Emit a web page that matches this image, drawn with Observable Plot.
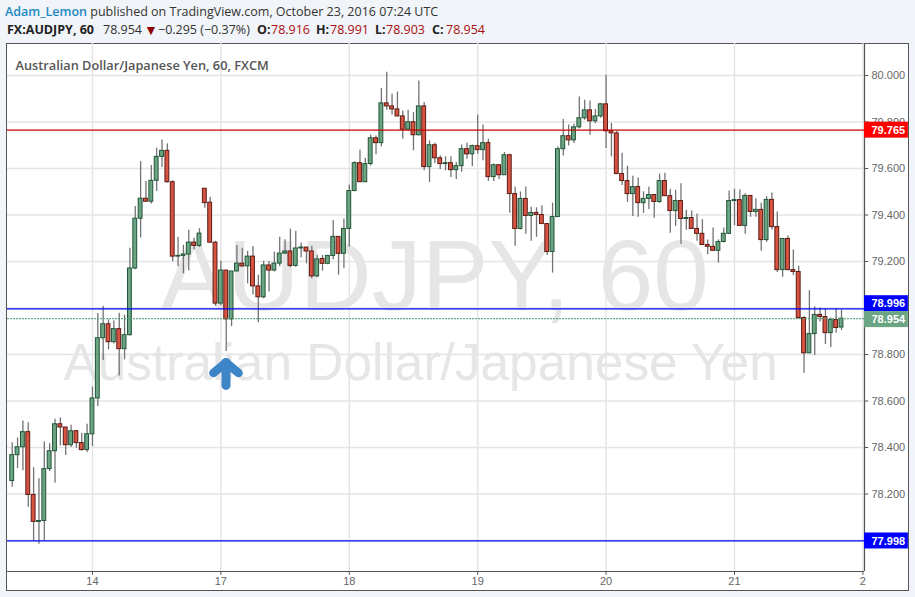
<!DOCTYPE html>
<html><head><meta charset="utf-8">
<script src="https://cdn.jsdelivr.net/npm/d3@7"></script>
<script src="https://cdn.jsdelivr.net/npm/@observablehq/plot@0.6"></script>
<style>
html,body{margin:0;padding:0;background:#f1f4f8;width:915px;height:597px;overflow:hidden}
#head{position:absolute;left:0;top:0;width:915px;height:43px;font-family:"Open Sans",sans-serif;color:#333;white-space:nowrap;font-size:12.5px;line-height:17px}
#head span{position:absolute}
#head .s{top:21px}
#head b{font-weight:700;color:#222}
#head i{font-style:normal;color:#a80f0f}
#frame{position:absolute;left:6px;top:43px;width:901px;height:546px;background:#fff;border:1px solid #555;box-sizing:content-box}
#chart{position:absolute;left:0;top:43px}
#chart svg{background:transparent;overflow:visible;display:block}
</style></head><body>
<div id="frame"></div>
<div id="head">
<span style="left:5px;top:3px"><b style="color:#1b8ac4;font-weight:600">Adam_Lemon</b> published on TradingView.com, October 23, 2016 07:24 UTC</span>
<span class="s" style="left:7px"><b>FX:AUDJPY, 60</b></span>
<span class="s" style="left:103px">78.954</span>
<span class="s" style="left:144px;color:#8b0000;font-size:14px;line-height:14px;top:23px">▼</span>
<span class="s" style="left:158px">−0.295 (−0.37%)</span>
<span class="s" style="left:257px"><b>O:</b></span><span class="s" style="left:271px"><i>78.916</i></span>
<span class="s" style="left:316px"><b>H:</b></span><span class="s" style="left:330px"><i>78.991</i></span>
<span class="s" style="left:375px"><b>L:</b></span><span class="s" style="left:386px"><i>78.903</i></span>
<span class="s" style="left:432px"><b>C:</b></span><span class="s" style="left:446px"><i>78.954</i></span>
</div>
<div id="chart"></div>
<script>
const open = [78.256,78.367,78.401,78.466,78.196,78.08,78.084,78.307,78.384,78.5,78.486,78.41,78.47,78.419,78.389,78.457,78.611,78.87,78.93,78.853,78.909,78.823,78.883,79.17,79.384,79.47,79.457,79.547,79.65,79.676,79.541,79.221,79.224,79.23,79.281,79.267,79.513,79.453,79.281,79.019,79.161,78.951,79.157,79.191,79.179,79.221,79.093,79.046,79.183,79.161,79.191,79.234,79.243,79.181,79.256,79.26,79.243,79.136,79.211,79.19,79.224,79.306,79.233,79.34,79.503,79.623,79.541,79.619,79.73,79.709,79.88,79.867,79.854,79.824,79.767,79.799,79.743,79.867,79.606,79.7,79.644,79.619,79.623,79.593,79.61,79.683,79.661,79.696,79.679,79.709,79.563,79.614,79.571,79.657,79.49,79.34,79.469,79.396,79.409,79.4,79.361,79.241,79.391,79.683,79.739,79.721,79.777,79.816,79.85,79.803,79.824,79.876,79.76,79.751,79.576,79.546,79.49,79.52,79.451,79.469,79.486,79.456,79.546,79.481,79.417,79.46,79.383,79.387,79.34,79.319,79.271,79.263,79.246,79.284,79.319,79.46,79.464,79.353,79.482,79.413,79.422,79.292,79.465,79.348,79.163,79.297,79.163,79.155,78.957,78.805,78.888,78.97,78.961,78.892,78.948,78.916];
const close = [78.367,78.401,78.466,78.196,78.08,78.084,78.307,78.384,78.5,78.486,78.41,78.47,78.419,78.389,78.457,78.611,78.87,78.93,78.853,78.909,78.823,78.883,79.17,79.384,79.47,79.457,79.547,79.65,79.676,79.541,79.221,79.224,79.23,79.281,79.267,79.32,79.451,79.281,79.019,79.161,78.951,79.157,79.191,79.179,79.221,79.093,79.046,79.183,79.161,79.191,79.234,79.243,79.181,79.256,79.26,79.243,79.136,79.209,79.19,79.224,79.306,79.233,79.34,79.503,79.623,79.541,79.619,79.73,79.709,79.88,79.867,79.854,79.824,79.767,79.799,79.743,79.867,79.606,79.7,79.644,79.619,79.623,79.593,79.61,79.683,79.661,79.696,79.679,79.709,79.563,79.614,79.571,79.657,79.49,79.34,79.469,79.396,79.409,79.4,79.361,79.241,79.391,79.683,79.739,79.721,79.777,79.816,79.85,79.803,79.824,79.876,79.76,79.751,79.576,79.546,79.49,79.52,79.451,79.469,79.486,79.456,79.546,79.481,79.417,79.46,79.383,79.387,79.34,79.319,79.271,79.263,79.246,79.284,79.319,79.46,79.464,79.353,79.482,79.413,79.422,79.292,79.465,79.348,79.163,79.297,79.163,79.155,78.957,78.805,78.888,78.97,78.961,78.892,78.948,78.914,78.954];
const high = [78.42,78.441,78.514,78.506,78.313,78.266,78.424,78.416,78.521,78.527,78.486,78.496,78.474,78.461,78.5,78.66,78.976,79.007,78.949,78.944,78.977,78.969,79.257,79.437,79.63,79.544,79.613,79.687,79.723,79.706,79.547,79.304,79.27,79.334,79.3,79.341,79.513,79.476,79.287,79.201,79.161,79.157,79.269,79.257,79.244,79.264,79.141,79.201,79.2,79.24,79.304,79.294,79.339,79.33,79.28,79.26,79.266,79.227,79.226,79.226,79.376,79.306,79.383,79.529,79.629,79.68,79.644,79.744,79.74,79.944,80.014,79.919,79.929,79.847,79.851,79.84,79.976,79.884,79.719,79.709,79.654,79.65,79.65,79.626,79.701,79.709,79.701,79.83,79.787,79.726,79.619,79.614,79.669,79.661,79.519,79.499,79.52,79.433,79.431,79.44,79.361,79.451,79.693,79.811,79.787,79.79,79.907,79.893,79.89,79.854,79.88,80.001,79.794,79.76,79.666,79.61,79.567,79.559,79.5,79.519,79.486,79.576,79.58,79.511,79.506,79.534,79.42,79.417,79.404,79.38,79.293,79.344,79.293,79.344,79.503,79.511,79.508,79.49,79.482,79.47,79.45,79.479,79.495,79.413,79.297,79.31,79.249,79.18,78.962,79.074,79.005,79.0,78.995,78.957,78.997,78.991];
const low = [78.229,78.31,78.30,78.143,77.998,77.984,77.998,78.297,78.246,78.407,78.366,78.40,78.397,78.384,78.379,78.404,78.576,78.774,78.82,78.845,78.707,78.777,78.88,79.164,79.301,79.455,79.447,79.501,79.604,79.537,79.199,79.177,79.147,79.159,79.249,79.26,79.429,79.281,79.007,79.01,78.813,78.92,79.157,79.175,79.104,79.056,78.937,79.04,79.069,79.155,79.177,79.23,79.173,79.175,79.216,79.19,79.126,79.13,79.159,79.186,79.207,79.141,79.169,79.261,79.5,79.54,79.54,79.611,79.659,79.693,79.851,79.83,79.821,79.727,79.766,79.676,79.74,79.59,79.54,79.621,79.596,79.59,79.561,79.553,79.584,79.64,79.607,79.661,79.633,79.544,79.544,79.553,79.57,79.407,79.266,79.336,79.317,79.287,79.304,79.361,79.226,79.15,79.39,79.654,79.697,79.707,79.77,79.807,79.743,79.793,79.816,79.686,79.65,79.576,79.527,79.454,79.394,79.39,79.407,79.424,79.386,79.45,79.48,79.321,79.351,79.274,79.334,79.34,79.287,79.27,79.229,79.244,79.193,79.28,79.316,79.354,79.35,79.317,79.39,79.39,79.244,79.282,79.335,79.153,79.132,79.16,79.14,78.953,78.719,78.805,78.796,78.94,78.843,78.83,78.891,78.903];

const priceTicks = [78.0,78.2,78.4,78.6,78.8,79.0,79.2,79.4,79.6,79.8,80.0];
const priceLabels = [78.2,78.4,78.6,78.8,79.2,79.4,79.6,79.8,80.0];
const dayIndex = [15,39,63,87,111,135,159];
const dayLabels = ["14","17","18","19","20","21","2"];
const blueLevels = [78.996,77.998];
const redLevel = [79.765];
const lastPrice = [78.954];
const tagValues = [79.765,78.996,77.998,78.954];
const tagCenters = [79.765,79.0185,77.998,78.95];
const tagColors = ["#ff0000","#0000ff","#0000ff","#6ba583"];
const arrowIndex = [37.6,39.96,42.3];
const arrowPrice = [78.72,78.766,78.72];
const arrowShaftIndex = [39.96,39.96];
const arrowShaftPrice = [78.766,78.667];

const candles = open.map((o,i)=>({i,o,c:close[i],h:high[i],l:low[i],up:close[i]>=o}));
const tags = tagValues.map((v,k)=>({v,at:tagCenters[k],color:tagColors[k]}));
const X0=-0.88, X1=159.3, XEND=167.5;

const chart = Plot.plot({
  width:915,height:554,marginTop:0,marginBottom:26,marginLeft:7,marginRight:51,
  style:{background:"transparent",overflow:"visible"},
  x:{domain:[X0,X1],axis:null},
  y:{domain:[77.8667,80.1376],axis:null},
  marks:[
    Plot.ruleY(priceTicks,{stroke:"#e4e4e4",strokeWidth:1.4}),
    Plot.ruleX(dayIndex,{stroke:"#e4e4e4",strokeWidth:1.4}),
    Plot.text(["AUDJPY, 60"],{frameAnchor:"top-left",dx:153,dy:195,textAnchor:"start",fontSize:100,fontFamily:"Liberation Sans",fill:"#e6e6e6"}),
    Plot.text(["Australian Dollar/Japanese Yen"],{frameAnchor:"top-left",dx:56,dy:300,textAnchor:"start",fontSize:51.4,fontFamily:"Liberation Sans",fill:"#e6e6e6"}),
    Plot.text(["Australian Dollar/Japanese Yen, 60, FXCM"],{frameAnchor:"top-left",dx:8,dy:17,textAnchor:"start",fontSize:12.75,fontWeight:600,fontFamily:"Open Sans",fill:"#555"}),
    Plot.ruleX(candles,{x:"i",y1:"l",y2:"h",stroke:"#737375",strokeWidth:1.3}),
    Plot.rect(candles,{x1:d=>d.i-0.36,x2:d=>d.i+0.36,y1:"o",y2:"c",fill:d=>d.up?"#6ba583":"#d75442",stroke:d=>d.up?"#225437":"#5b1a13",strokeWidth:1}),
    Plot.ruleY(blueLevels,{stroke:"#0000ff",strokeWidth:1.2}),
    Plot.ruleY(redLevel,{stroke:"#c80000",strokeWidth:1.2}),
    Plot.ruleY(lastPrice,{stroke:"#3f9a6c",strokeWidth:1,strokeDasharray:"2 1"}),
    Plot.line(arrowIndex.map((x,k)=>({x,y:arrowPrice[k]})),{x:"x",y:"y",stroke:"#3d85c6",strokeWidth:8.5,strokeLinejoin:"round",strokeLinecap:"round"}),
    Plot.line(arrowShaftIndex.map((x,k)=>({x,y:arrowShaftPrice[k]})),{x:"x",y:"y",stroke:"#3d85c6",strokeWidth:9,strokeLinecap:"round"}),
    Plot.ruleX([X1],{stroke:"#555",strokeWidth:1.2}),
    Plot.ruleY([77.8667],{stroke:"#555",strokeWidth:1.2}),
    Plot.ruleY(priceTicks,{x1:X1,x2:X1+0.8,stroke:"#555"}),
    Plot.text(priceLabels,{x:X1,y:d=>d,text:d=>d.toFixed(3),dx:7,textAnchor:"start",fontFamily:"Liberation Sans",fontSize:11,fill:"#666"}),
    Plot.rect(tags,{x1:X1,x2:XEND,y1:d=>d.at-0.0344,y2:d=>d.at+0.0344,fill:"color"}),
    Plot.text(tags,{x:X1,y:"at",text:d=>d.v.toFixed(3),dx:7,textAnchor:"start",fontFamily:"Liberation Sans",fontSize:11,fontWeight:"bold",fill:"#fff"}),
    Plot.ruleX(dayIndex,{y1:77.8667,y2:77.85,stroke:"#555"}),
    Plot.text(dayIndex,{x:d=>d,y:77.8667,text:(d,k)=>dayLabels[k],dy:10,fontFamily:"Liberation Sans",fontSize:11,fill:"#666"})
  ]
});
document.getElementById("chart").appendChild(chart);
</script>
</body></html>
